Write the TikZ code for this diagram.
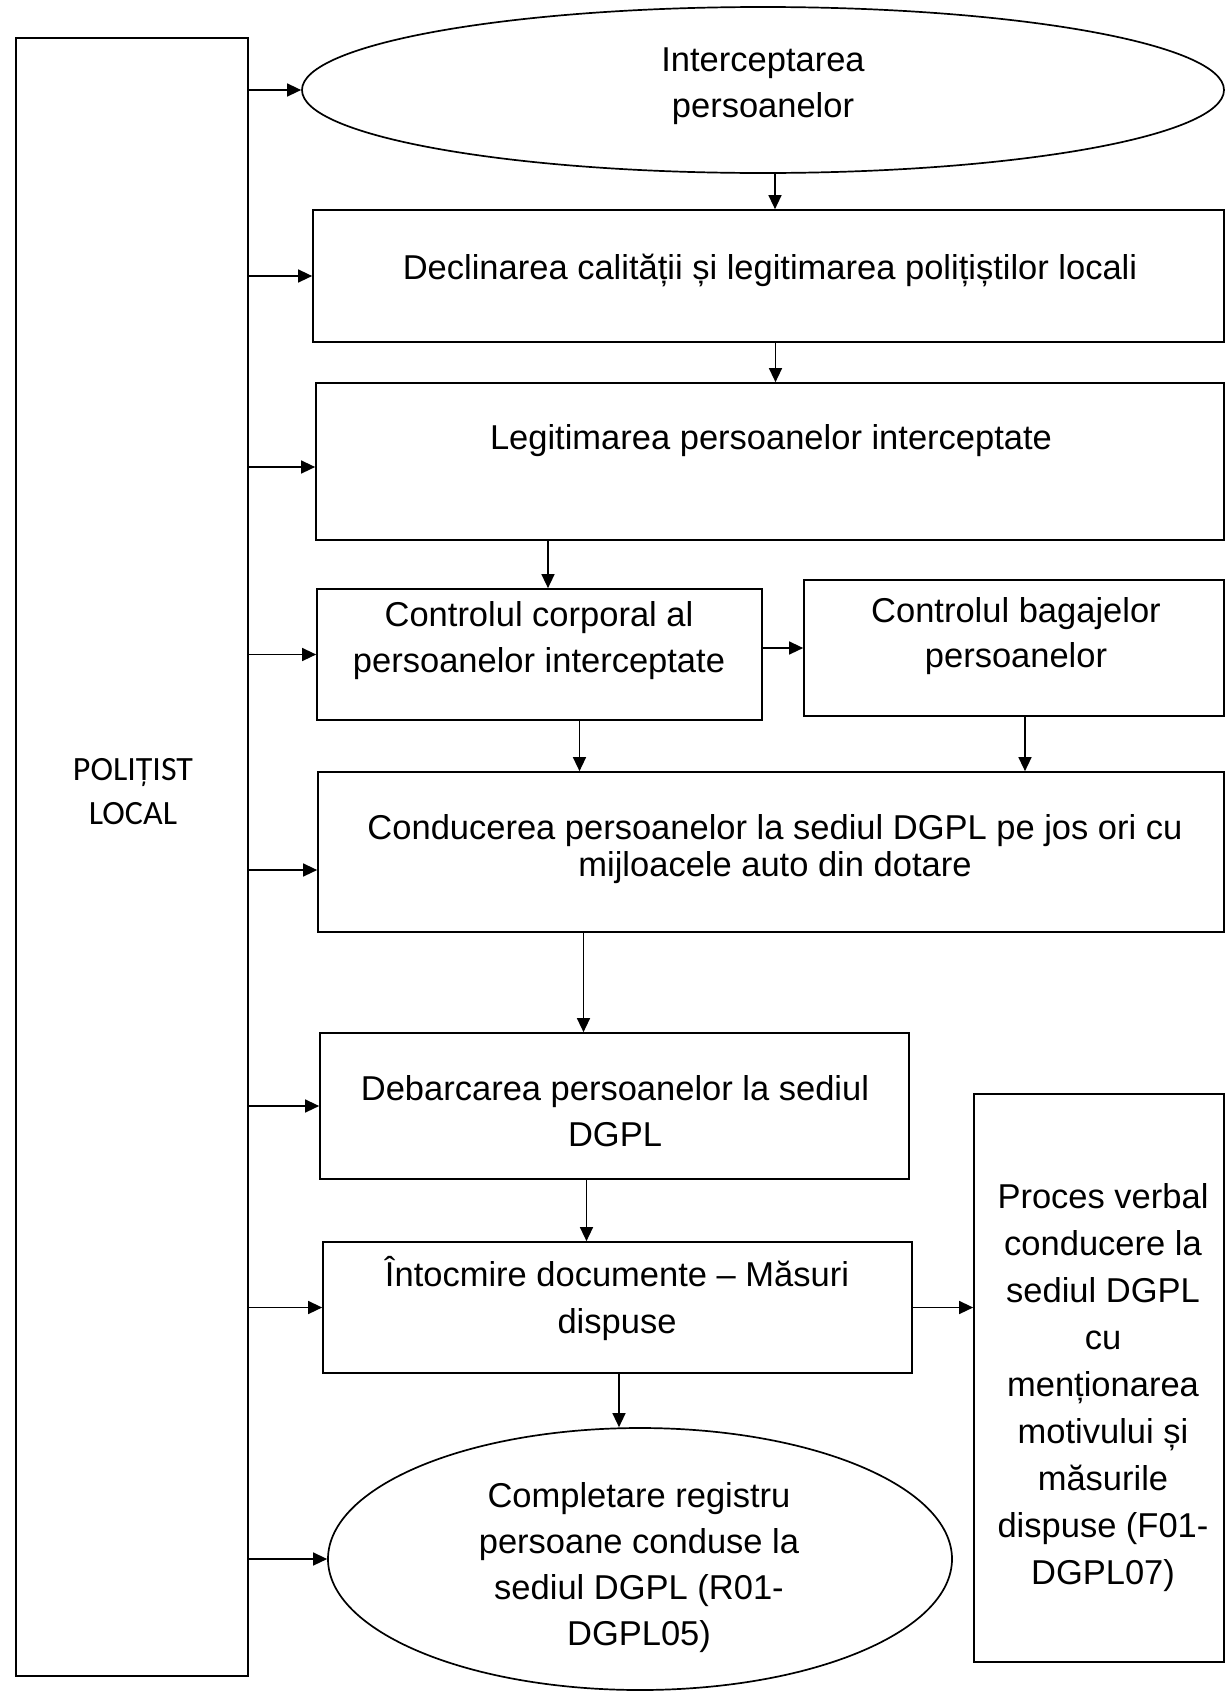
\documentclass[tikz,border=0pt]{standalone}
\usepackage{fontspec}
\setmainfont{Liberation Sans}
\newfontfamily\calibfont{Carlito}
\usetikzlibrary{arrows.meta,shapes.geometric}
\begin{document}
\begin{tikzpicture}[x=1pt,y=-1pt,
  box/.style={draw, line width=1.7pt, rectangle, inner sep=0pt},
  oval/.style={draw, line width=1.7pt, ellipse, inner sep=0pt},
  txt/.style={font=\fontsize{34.5}{46}\selectfont, align=center, inner sep=0pt, anchor=base},
  arr/.style={line width=1.4pt, -{Triangle[length=14pt,width=13pt]}},
]
\useasboundingbox (0,0) rectangle (1227,1692);

% shapes
\node[box, minimum width=232, minimum height=1638] (pol) at (132,857) {};
\node[oval, minimum width=922, minimum height=166] (ell1) at (763,90) {};
\node[box, minimum width=911, minimum height=132] (decl) at (768.5,276) {};
\node[box, minimum width=908, minimum height=157] (legit) at (770,461.5) {};
\node[box, minimum width=445, minimum height=131] (corp) at (539.5,654.5) {};
\node[box, minimum width=420, minimum height=136] (bag) at (1014,648) {};
\node[box, minimum width=906, minimum height=160] (cond) at (771,852) {};
\node[box, minimum width=589, minimum height=146] (deb) at (614.5,1106) {};
\node[box, minimum width=589, minimum height=131] (intoc) at (617.5,1307.5) {};
\node[box, minimum width=250, minimum height=568] (proc) at (1099,1378) {};
\node[oval, minimum width=624, minimum height=262] (ell2) at (640,1559) {};

% texts (anchor=base is the baseline of the last line)
\node[txt, font=\calibfont\fontsize{34}{44}\selectfont] (tpol) at (133,824) {POLIȚIST\\LOCAL};
\node[txt] (tell1) at (763,117) {Interceptarea\\persoanelor};
\node[txt] (tdecl) at (770,279) {Declinarea calității și legitimarea polițiștilor locali};
\node[txt] (tlegit) at (771,449) {Legitimarea persoanelor interceptate};
\node[txt] (tcorp) at (539,672) {Controlul corporal al\\persoanelor interceptate};
\node[txt, font=\fontsize{34.5}{45}\selectfont] (tbag) at (1016,667) {Controlul bagajelor\\persoanelor};
\node[txt, font=\fontsize{34.5}{37}\selectfont] (tcond) at (775,876) {Conducerea persoanelor la sediul DGPL pe jos ori cu\\mijloacele auto din dotare};
\node[txt] (tdeb) at (615,1146) {Debarcarea persoanelor la sediul\\DGPL};
\node[txt, font=\fontsize{34.5}{47}\selectfont] (tintoc) at (617,1333) {Întocmire documente – Măsuri\\dispuse};
\node[txt, font=\fontsize{34.5}{47}\selectfont] (tproc) at (1103,1584) {Proces verbal\\conducere la\\sediul DGPL\\cu\\menționarea\\motivului și\\măsurile\\dispuse (F01-\\DGPL07)};
\node[txt] (tell2) at (639,1645) {Completare registru\\persoane conduse la\\sediul DGPL (R01-\\DGPL05)};

% arrows from the left column
\coordinate (legitin) at ([yshift=-5.5pt]legit.west);
\coordinate (condin) at ([yshift=-18pt]cond.west);
\draw[arr] (pol.east |- ell1.west) -- (ell1.west);
\draw[arr] (pol.east |- decl.west) -- (decl.west);
\draw[arr] (pol.east |- legitin) -- (legitin);
\draw[arr] (pol.east |- corp.west) -- (corp.west);
\draw[arr] (pol.east |- condin) -- (condin);
\draw[arr] (pol.east |- deb.west) -- (deb.west);
\draw[arr] (pol.east |- intoc.west) -- (intoc.west);
\draw[arr] (pol.east |- ell2.west) -- (ell2.west);

% flow arrows
\draw[arr] ([xshift=12pt]ell1.south) -- ([xshift=12pt]ell1.south |- decl.north);
\draw[arr] ([xshift=7pt]decl.south) -- ([xshift=7pt]decl.south |- legit.north);
\draw[arr] ([xshift=8.5pt]corp.north |- legit.south) -- ([xshift=8.5pt]corp.north);
\draw[arr] (corp.east |- bag.west) -- (bag.west);
\draw[arr] ([xshift=40pt]corp.south) -- ([xshift=40pt]corp.south |- cond.north);
\draw[arr] ([xshift=11pt]bag.south) -- ([xshift=11pt]bag.south |- cond.north);
\draw[arr] ([xshift=-31pt]deb.north |- cond.south) -- ([xshift=-31pt]deb.north);
\draw[arr] ([xshift=-31pt]intoc.north |- deb.south) -- ([xshift=-31pt]intoc.north);
\draw[arr] ([xshift=-21pt]ell2.north |- intoc.south) -- ([xshift=-21pt]ell2.north);
\draw[arr] (intoc.east) -- (intoc.east -| proc.west);
\end{tikzpicture}
\end{document}
